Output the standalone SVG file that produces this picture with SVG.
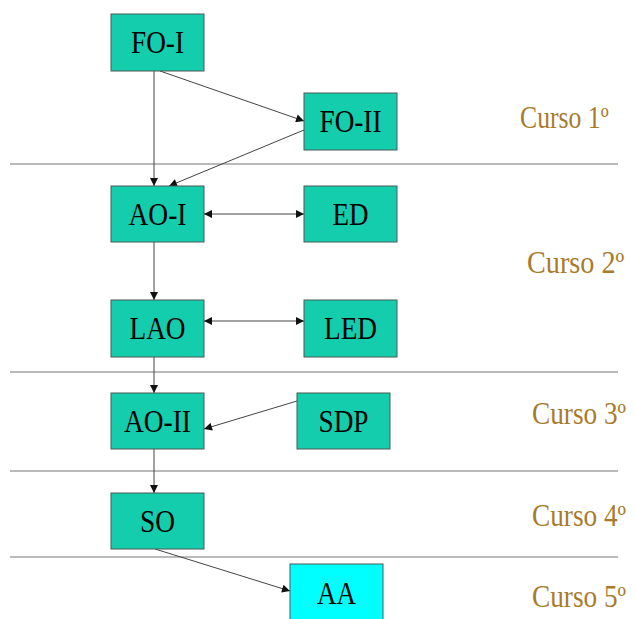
<svg xmlns="http://www.w3.org/2000/svg" width="635" height="619" viewBox="0 0 635 619">
<style>
.box{fill:#14CDAC;stroke:#4a5a56;stroke-width:1}
.aa{fill:#00FFFF;stroke:#4a5a56;stroke-width:1}
.lbl{font-family:"Liberation Serif","Times New Roman",serif;font-size:31px;fill:#000;text-anchor:middle}
.curso{font-family:"Liberation Serif","Times New Roman",serif;font-size:31px;fill:#A87A2C}
.sep{stroke:#777;stroke-width:1.2}
.con{stroke:#444;stroke-width:1;fill:none}
</style>
<defs>
<marker id="ah" viewBox="0 0 10 10" refX="10" refY="5" markerWidth="9" markerHeight="8" markerUnits="userSpaceOnUse" orient="auto">
<path d="M0,0 L10,5 L0,10 z" fill="#111"/>
</marker>
<marker id="as" viewBox="0 0 10 10" refX="0" refY="5" markerWidth="9" markerHeight="8" markerUnits="userSpaceOnUse" orient="auto">
<path d="M10,0 L0,5 L10,10 z" fill="#111"/>
</marker>
</defs>
<rect width="635" height="619" fill="#fff"/>
<g id="separators">
<line class="sep" x1="10" y1="164" x2="618" y2="164"/>
<line class="sep" x1="10" y1="372" x2="618" y2="372"/>
<line class="sep" x1="10" y1="471" x2="618" y2="471"/>
<line class="sep" x1="10" y1="557" x2="618" y2="557"/>
</g>
<g id="connectors">
<line class="con" x1="154" y1="71" x2="154" y2="186" marker-end="url(#ah)"/>
<line class="con" x1="160" y1="71" x2="304" y2="121" marker-end="url(#ah)"/>
<line class="con" x1="304" y1="130" x2="169" y2="186" marker-end="url(#ah)"/>
<line class="con" x1="204" y1="214" x2="304" y2="214" marker-start="url(#as)" marker-end="url(#ah)"/>
<line class="con" x1="154" y1="242" x2="154" y2="300" marker-end="url(#ah)"/>
<line class="con" x1="204" y1="321" x2="304" y2="321" marker-start="url(#as)" marker-end="url(#ah)"/>
<line class="con" x1="154" y1="357" x2="154" y2="393" marker-end="url(#ah)"/>
<line class="con" x1="297" y1="401" x2="204" y2="429" marker-end="url(#ah)"/>
<line class="con" x1="154" y1="449" x2="154" y2="493" marker-end="url(#ah)"/>
<line class="con" x1="155" y1="549" x2="290" y2="591" marker-end="url(#ah)"/>
</g>
<g id="FO-I"><rect class="box" x="111" y="14" width="93" height="57"/><text class="lbl" x="157.5" y="53" textLength="53" lengthAdjust="spacingAndGlyphs">FO-I</text></g>
<g id="FO-II"><rect class="box" x="304" y="93" width="93" height="57"/><text class="lbl" x="350.5" y="132" textLength="62" lengthAdjust="spacingAndGlyphs">FO-II</text></g>
<g id="AO-I"><rect class="box" x="111" y="186" width="93" height="56"/><text class="lbl" x="157.5" y="224.5" textLength="58" lengthAdjust="spacingAndGlyphs">AO-I</text></g>
<g id="ED"><rect class="box" x="304" y="186" width="93" height="56"/><text class="lbl" x="350.5" y="224.5" textLength="36" lengthAdjust="spacingAndGlyphs">ED</text></g>
<g id="LAO"><rect class="box" x="111" y="300" width="93" height="57"/><text class="lbl" x="157.5" y="339" textLength="56" lengthAdjust="spacingAndGlyphs">LAO</text></g>
<g id="LED"><rect class="box" x="304" y="300" width="93" height="57"/><text class="lbl" x="350.5" y="339" textLength="53" lengthAdjust="spacingAndGlyphs">LED</text></g>
<g id="AO-II"><rect class="box" x="111" y="393" width="93" height="56"/><text class="lbl" x="157.5" y="431.5" textLength="67" lengthAdjust="spacingAndGlyphs">AO-II</text></g>
<g id="SDP"><rect class="box" x="297" y="393" width="93" height="56"/><text class="lbl" x="343.5" y="431.5" textLength="50" lengthAdjust="spacingAndGlyphs">SDP</text></g>
<g id="SO"><rect class="box" x="111" y="493" width="93" height="56"/><text class="lbl" x="157.5" y="531.5" textLength="35" lengthAdjust="spacingAndGlyphs">SO</text></g>
<g id="AA"><rect class="aa" x="290" y="564" width="93" height="60"/><text class="lbl" x="336.5" y="604" textLength="39" lengthAdjust="spacingAndGlyphs">AA</text></g>
<g id="cursos">
<text class="curso" transform="translate(520,128) scale(0.83,1)">Curso 1º</text>
<text class="curso" transform="translate(527,273) scale(0.91,1)">Curso 2º</text>
<text class="curso" transform="translate(532,424) scale(0.88,1)">Curso 3º</text>
<text class="curso" transform="translate(532,526) scale(0.88,1)">Curso 4º</text>
<text class="curso" transform="translate(532,607) scale(0.88,1)">Curso 5º</text>
</g>
</svg>
